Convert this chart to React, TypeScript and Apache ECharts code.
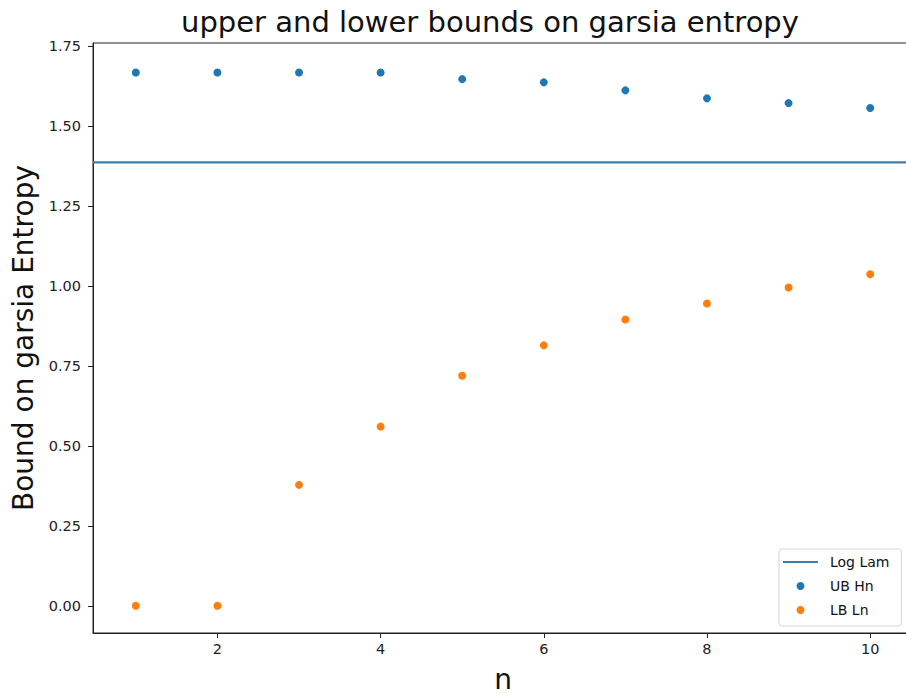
import React, { useEffect, useRef } from "react";
import * as echarts from "echarts";

const nValues = [1, 2, 3, 4, 5, 6, 7, 8, 9, 10];
const ubHn = [1.667, 1.667, 1.667, 1.667, 1.646, 1.636, 1.611, 1.586, 1.571, 1.556];
const lbLn = [0, 0, 0.378, 0.56, 0.719, 0.814, 0.895, 0.945, 0.995, 1.036];
const logLam = 1.386;
const xTicks = [2, 4, 6, 8, 10];
const yTicks = [0, 0.25, 0.5, 0.75, 1.0, 1.25, 1.5, 1.75];
const X_MIN = 0.475;
const X_MAX = 10.525;
const Y_MIN = -0.085;
const Y_MAX = 1.759;

const FONT = "DejaVu Sans";

export default function App() {
  const ref = useRef<HTMLDivElement>(null);
  useEffect(() => {
    if (!ref.current) return;
    const chart = echarts.init(ref.current, undefined, { renderer: "svg" });
    chart.setOption({
      animation: false,
      backgroundColor: "#ffffff",
      title: {
        text: "upper and lower bounds on garsia entropy",
        left: 490,
        top: 7,
        textAlign: "center",
        padding: 0,
        textStyle: { fontFamily: FONT, fontSize: 29, fontWeight: "normal", color: "#111" },
      },
      grid: {
        left: 93,
        top: 43,
        bottom: 61,
        right: 7,
        show: true,
        borderColor: "#222",
        borderWidth: 1,
        outerBoundsMode: "none",
        containLabel: false,
      },
      legend: {
        orient: "vertical",
        left: 779,
        top: 549,
        padding: [6, 12, 9, 4],
        itemGap: 10,
        itemWidth: 35,
        itemHeight: 8,
        borderColor: "#d6d6d6",
        borderWidth: 1,
        borderRadius: 3,
        backgroundColor: "#fff",
        textStyle: { fontFamily: FONT, fontSize: 14, color: "#111", padding: [0, 0, 0, 7] },
        data: [
          { name: "Log Lam", icon: "path://M0,0 L35,0 L35,2.2 L0,2.2 Z", itemStyle: { color: "#3b7fb0" } },
          { name: "UB Hn", icon: "circle", itemStyle: { color: "#1f77b4" } },
          { name: "LB Ln", icon: "circle", itemStyle: { color: "#ff7f0e" } },
        ],
      },
      xAxis: {
        type: "value",
        min: X_MIN,
        max: X_MAX,
        name: "n",
        nameLocation: "middle",
        nameGap: 32,
        nameTextStyle: { fontFamily: FONT, fontSize: 28, color: "#111" },
        splitLine: { show: false },
        axisLine: { show: true, onZero: false, lineStyle: { color: "#222", width: 1 } },
        axisTick: { show: true, length: 5, customValues: xTicks, lineStyle: { color: "#222" } },
        axisLabel: {
          customValues: xTicks,
          margin: 8,
          fontFamily: FONT,
          fontSize: 14.5,
          color: "#222",
          formatter: (v: number) => String(Math.round(v)),
        },
      },
      yAxis: {
        type: "value",
        min: Y_MIN,
        max: Y_MAX,
        name: "Bound on garsia Entropy",
        nameLocation: "middle",
        nameGap: 46,
        nameTextStyle: { fontFamily: FONT, fontSize: 28, color: "#111" },
        splitLine: { show: false },
        axisLine: { show: true, onZero: false, lineStyle: { color: "#222", width: 1 } },
        axisTick: { show: true, length: 5, customValues: yTicks, lineStyle: { color: "#222" } },
        axisLabel: {
          customValues: yTicks,
          margin: 12,
          fontFamily: FONT,
          fontSize: 14.5,
          color: "#222",
          formatter: (v: number) => v.toFixed(2),
        },
      },
      series: [
        {
          name: "Log Lam",
          type: "line",
          symbol: "none",
          data: [
            [X_MIN, logLam],
            [X_MAX, logLam],
          ],
          lineStyle: { color: "#3b7fb0", width: 2.2 },
          itemStyle: { color: "#3b7fb0" },
          z: 2,
        },
        {
          name: "UB Hn",
          type: "scatter",
          symbol: "circle",
          symbolSize: 8,
          data: nValues.map((n, i) => [n, ubHn[i]]),
          itemStyle: { color: "#1f77b4", opacity: 1 },
          z: 3,
        },
        {
          name: "LB Ln",
          type: "scatter",
          symbol: "circle",
          symbolSize: 8,
          data: nValues.map((n, i) => [n, lbLn[i]]),
          itemStyle: { color: "#ff7f0e", opacity: 1 },
          z: 3,
        },
      ],
    });
    return () => chart.dispose();
  }, []);
  return (
    <div style={{ position: "fixed", left: 0, top: 0, width: 906, height: 694, overflow: "hidden", background: "#fff" }}>
      <div ref={ref} style={{ width: 920, height: 694 }} />
    </div>
  );
}
